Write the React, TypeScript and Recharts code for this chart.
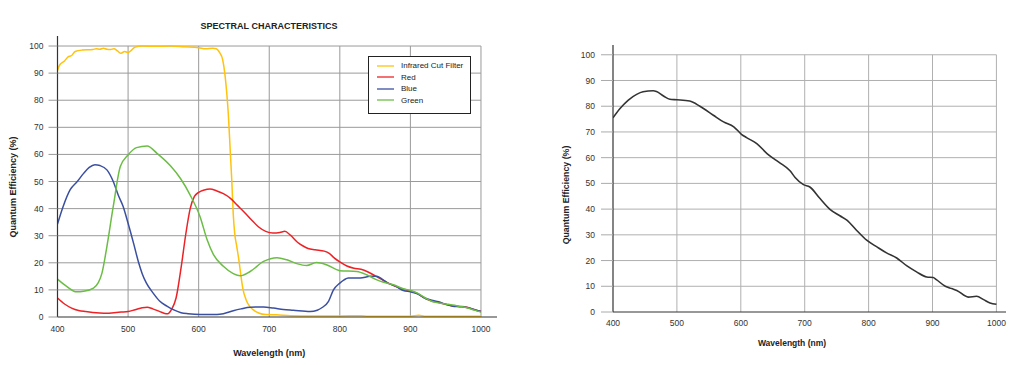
import { LineChart, Line, XAxis, YAxis, ReferenceLine, Legend } from "recharts"

const FONT = '"Liberation Sans", Arial, sans-serif'

const wavelengthTicks = [400, 500, 600, 700, 800, 900, 1000]
const qeTicks = [0, 10, 20, 30, 40, 50, 60, 70, 80, 90, 100]

// [wavelength nm, QE %]
const irCutFilter = [
  [400, 91], [403, 93], [410, 94.5], [415, 96], [420, 96.5], [425, 98], [435, 98.5], [450, 98.7],
  [455, 99], [460, 98.8], [465, 99.2], [470, 98.8], [475, 98.7], [480, 99], [485, 98.2], [490, 97.3],
  [495, 98], [500, 97.6], [505, 98.5], [510, 99.6], [520, 100], [540, 99.9], [560, 100], [580, 99.7],
  [600, 99.4], [610, 99], [620, 99.2], [625, 99], [630, 97.5], [634, 95], [637, 90], [640, 82],
  [642, 75], [645, 60], [647, 50], [649, 38], [651, 31], [654, 26], [657, 21], [660, 15], [663, 10],
  [667, 6.5], [672, 4], [677, 2.7], [685, 1.5], [695, 0.9], [710, 0.8], [730, 0.5], [760, 0.4],
  [800, 0.4], [830, 0.5], [840, 0.3], [900, 0.3], [912, 0.6], [920, 0.3], [1000, 0.3],
]

const red = [
  [400, 7], [410, 4.8], [420, 3.3], [430, 2.4], [440, 2], [450, 1.7], [460, 1.5], [470, 1.4],
  [480, 1.6], [490, 1.8], [500, 2], [510, 2.7], [520, 3.4], [527, 3.6], [535, 3], [545, 2],
  [552, 1.3], [556, 1.2], [562, 3], [568, 7], [575, 18], [582, 31], [588, 40], [594, 44.5],
  [600, 46], [608, 46.9], [616, 47.2], [625, 46.6], [635, 45.5], [645, 43.8], [655, 41.2],
  [665, 38.6], [675, 35.8], [685, 33.2], [695, 31.6], [705, 31], [715, 31.2], [722, 31.6],
  [730, 30.2], [740, 27.6], [748, 26.2], [755, 25.3], [765, 24.8], [778, 24.3], [785, 23.5],
  [792, 21.8], [800, 20.3], [810, 18.8], [820, 18], [830, 17.6], [840, 16.6], [850, 15.2],
  [860, 13.8], [870, 12.3], [880, 11.2], [890, 10.2], [900, 9.6], [910, 8.6], [920, 7],
  [930, 5.9], [940, 5.4], [950, 4.7], [960, 4.1], [970, 3.9], [980, 3.6], [990, 2.8], [1000, 2],
]

const blue = [
  [400, 34.3], [408, 40.8], [418, 47], [428, 50], [437, 53], [445, 55.2], [453, 56.2], [460, 55.9],
  [470, 54.3], [479, 50], [486, 45], [493, 40.8], [500, 34.6], [508, 27], [515, 20], [520, 16],
  [526, 12.5], [535, 9], [545, 5.8], [555, 4], [564, 2.7], [575, 1.6], [585, 1.2], [602, 0.9],
  [626, 0.9], [635, 1.2], [649, 2.3], [660, 3], [673, 3.6], [692, 3.7], [706, 3.3], [720, 2.8],
  [734, 2.5], [758, 2], [768, 2.5], [775, 3.5], [784, 5.8], [791, 10], [800, 12.5], [806, 13.7],
  [812, 14.4], [829, 14.4], [843, 15], [852, 15], [866, 12.8], [880, 11.2], [890, 9.8], [900, 9.3],
  [910, 8.6], [920, 7], [930, 6.2], [940, 5.6], [950, 4.7], [960, 4], [970, 3.8], [980, 3.5],
  [990, 2.8], [1000, 2],
]

const green = [
  [400, 14], [413, 11.3], [427, 9.3], [437, 9.5], [451, 10.7], [458, 12.8], [463, 16.2], [470, 26],
  [479, 40.8], [489, 55.5], [500, 59.8], [512, 62.5], [527, 63.1], [541, 60.4], [560, 55.8],
  [574, 51.2], [588, 45], [602, 37], [612, 28.5], [621, 23], [635, 18.7], [649, 16], [659, 15.2],
  [673, 16.8], [692, 20.5], [711, 21.9], [725, 21.1], [739, 19.7], [753, 19], [767, 20.1],
  [781, 19.3], [800, 17.1], [824, 16.8], [838, 15.6], [850, 14], [862, 12.8], [876, 11.9],
  [890, 10.4], [900, 9.8], [910, 8.8], [920, 7.2], [930, 5.8], [940, 5.2], [950, 4.8], [960, 4.4],
  [970, 3.9], [980, 3.4], [990, 2.6], [1000, 1.8],
]

const mono = [
  [400, 75.5], [411, 79.1], [424, 82.4], [437, 84.6], [447, 85.6], [463, 86], [468, 85.7], [479, 84],
  [489, 82.7], [500, 82.5], [520, 82], [536, 80], [557, 76.5], [573, 73.9], [589, 72], [601, 69.1],
  [609, 67.8], [625, 65.5], [641, 61.6], [651, 59.7], [661, 58], [677, 54.9], [685, 52.3],
  [698, 49.5], [708, 48.6], [724, 44.1], [740, 39.8], [755, 37.4], [766, 35.7], [781, 31.8],
  [797, 27.9], [813, 25.3], [828, 23], [844, 21], [860, 17.9], [875, 15.6], [891, 13.6],
  [901, 13.4], [906, 12.6], [920, 10], [930, 9.1], [938, 8.4], [956, 5.8], [969, 6.1], [980, 4.8],
  [990, 3.5], [1000, 3],
]

const toPoints = (pairs: number[][]) => pairs.map(([nm, qe]) => ({ nm, qe }))

const colorSeries = [
  { name: "Infrared Cut Filter", color: "#ffc20e", points: toPoints(irCutFilter) },
  { name: "Red", color: "#ec2227", points: toPoints(red) },
  { name: "Blue", color: "#3b4fa1", points: toPoints(blue) },
  { name: "Green", color: "#6cbd45", points: toPoints(green) },
]

const axisText = { fontSize: 8.5, fill: "#333", fontFamily: FONT }

// axis title drawn relative to the axis viewBox
const axisTitle = (value: string, rotate: boolean, dx: number, dy: number, size: number) => (props: any) => {
  const { x, y, width, height } = props.viewBox
  const cx = rotate ? x + dx : x + width / 2 + dx
  const cy = rotate ? y + height / 2 + dy : y + dy
  return (
    <text
      x={cx}
      y={cy}
      transform={rotate ? `rotate(-90 ${cx} ${cy})` : undefined}
      textAnchor="middle"
      dominantBaseline="central"
      fontSize={size}
      fontWeight="bold"
      fontFamily={FONT}
      fill="#222"
    >
      {value}
    </text>
  )
}

const gridLines = (stroke: string) => [
  ...qeTicks.slice(1).map((v) => (
    <ReferenceLine key={"h" + v} segment={[{ x: 400, y: v }, { x: 1000, y: v }]} stroke={stroke} strokeWidth={1} />
  )),
  ...wavelengthTicks.slice(1).map((v) => (
    <ReferenceLine key={"v" + v} segment={[{ x: v, y: 0 }, { x: v, y: 100 }]} stroke={stroke} strokeWidth={1} />
  )),
]

// keep the legend in series order (Recharts sorts by name otherwise)
const LegendBox = (props: any) => {
  const payload = props.payload || []
  const ordered = colorSeries
    .map((s) => payload.find((p: any) => p.value === s.name) || { value: s.name, color: s.color })
  return (
    <div style={{ border: "1px solid #222", background: "#fff", width: 101, height: 53, boxSizing: "content-box", paddingTop: 3 }}>
      {ordered.map((entry: any) => (
        <div key={entry.value} style={{ display: "flex", alignItems: "center", height: 11.5, fontSize: 8, fontFamily: FONT, color: "#222" }}>
          <svg width={17} height={4} style={{ marginLeft: 8, marginRight: 7 }}>
            <line x1={0} x2={17} y1={2} y2={2} stroke={entry.color} strokeWidth={1.3} />
          </svg>
          {entry.value}
        </div>
      ))}
    </div>
  )
}

const SpectralChart = () => (
  <LineChart width={520} height={365} margin={{ top: 36, right: 23, bottom: 3, left: 12 }}>
    <XAxis
      type="number"
      dataKey="nm"
      domain={[400, 1022.7]}
      ticks={wavelengthTicks}
      allowDataOverflow
      tickLine={false}
      tickSize={0}
      tickMargin={9}
      axisLine={{ stroke: "#333", strokeWidth: 1.2 }}
      tick={axisText}
      height={45}
      label={axisTitle("Wavelength (nm)", false, -8, 36, 9)}
    />
    <YAxis
      type="number"
      dataKey="qe"
      domain={[0, 103.7]}
      ticks={qeTicks}
      allowDataOverflow
      width={45.5}
      tickSize={9}
      tickMargin={5}
      tickLine={{ stroke: "#999" }}
      axisLine={{ stroke: "#333", strokeWidth: 1.2 }}
      tick={axisText}
      label={axisTitle("Quantum Efficiency (%)", true, 0.5, 10.5, 9)}
    />
    {gridLines("#9a9a9a")}
    {colorSeries.map((s) => (
      <Line
        key={s.name}
        data={s.points}
        dataKey="qe"
        name={s.name}
        type="monotone"
        stroke={s.color}
        strokeWidth={1.5}
        dot={false}
        isAnimationActive={false}
      />
    ))}
    <Legend
      layout="vertical"
      align="center"
      verticalAlign="middle"
      content={<LegendBox />}
      wrapperStyle={{ left: 368, top: 56, width: "auto" }}
    />
  </LineChart>
)

const MonoChart = () => (
  <LineChart width={484} height={365} margin={{ top: 45, right: 18, bottom: 13, left: 13 }}>
    <XAxis
      type="number"
      dataKey="nm"
      domain={[400, 1015]}
      ticks={wavelengthTicks}
      allowDataOverflow
      tickLine={false}
      tickSize={0}
      tickMargin={8}
      axisLine={{ stroke: "#333", strokeWidth: 1.2 }}
      tick={axisText}
      height={40}
      label={axisTitle("Wavelength (nm)", false, -17.5, 31, 8.5)}
    />
    <YAxis
      type="number"
      dataKey="qe"
      domain={[0, 103.8]}
      ticks={qeTicks}
      allowDataOverflow
      width={60}
      tickSize={12}
      tickMargin={6}
      tickLine={{ stroke: "#aaa" }}
      axisLine={{ stroke: "#333", strokeWidth: 1.2 }}
      tick={axisText}
      label={axisTitle("Quantum Efficiency (%)", true, 13, 16.5, 8.8)}
    />
    {gridLines("#b0b0b0")}
    <Line
      data={toPoints(mono)}
      dataKey="qe"
      type="monotone"
      stroke="#333"
      strokeWidth={1.6}
      dot={false}
      isAnimationActive={false}
    />
  </LineChart>
)

export default function App() {
  return (
    <div style={{ position: "absolute", left: 0, top: 0, width: 1024, height: 365, background: "#fff", fontFamily: FONT }}>
      <div
        style={{
          position: "absolute",
          left: 0,
          top: 20,
          width: 538,
          textAlign: "center",
          fontSize: 9,
          fontWeight: "bold",
          color: "#222",
          lineHeight: "12px",
        }}
      >
        SPECTRAL CHARACTERISTICS
      </div>
      <div style={{ position: "absolute", left: 0, top: 0 }}>
        <SpectralChart />
      </div>
      <div style={{ position: "absolute", left: 540, top: 0 }}>
        <MonoChart />
      </div>
    </div>
  )
}
